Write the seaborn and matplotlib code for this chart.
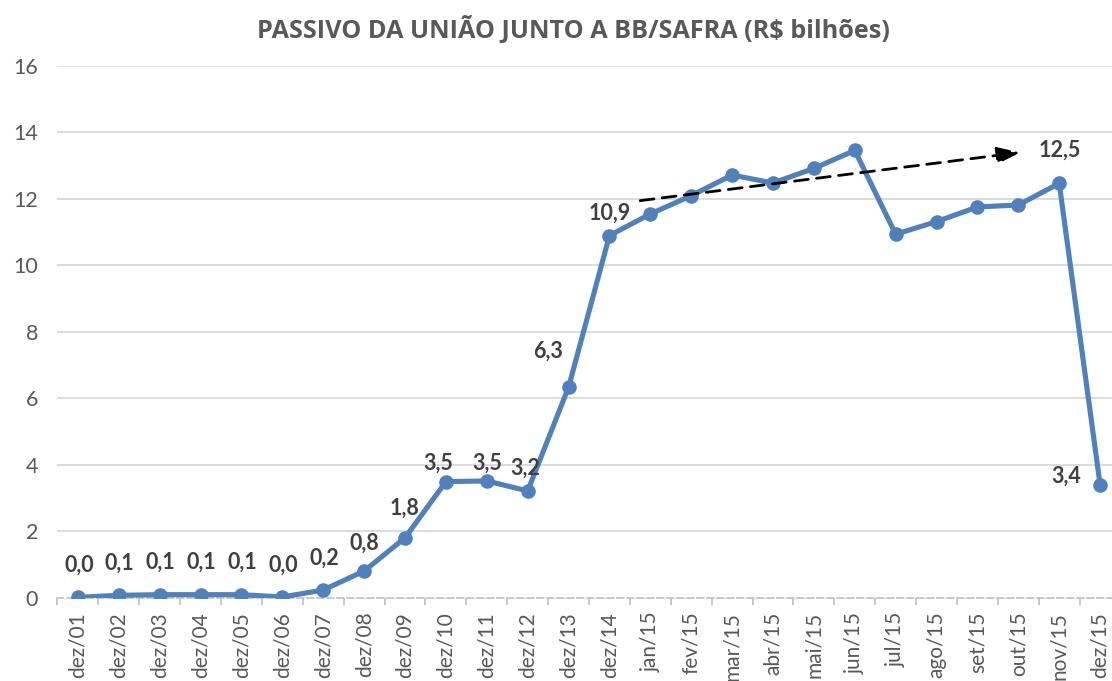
import numpy as np
import pandas as pd
import matplotlib
matplotlib.use("Agg")
import matplotlib.pyplot as plt
import seaborn as sns

# dados
meses = ['dez/01', 'dez/02', 'dez/03', 'dez/04', 'dez/05', 'dez/06', 'dez/07',
         'dez/08', 'dez/09', 'dez/10', 'dez/11', 'dez/12', 'dez/13', 'dez/14',
         'jan/15', 'fev/15', 'mar/15', 'abr/15', 'mai/15', 'jun/15', 'jul/15',
         'ago/15', 'set/15', 'out/15', 'nov/15', 'dez/15']
passivo = [0.02, 0.08, 0.1, 0.1, 0.1, 0.03, 0.24,
           0.81, 1.81, 3.5, 3.52, 3.22, 6.34, 10.9,
           11.55, 12.1, 12.72, 12.48, 12.92, 13.46, 10.94,
           11.32, 11.76, 11.82, 12.47, 3.4]
# rotulos mostrados no grafico (None = sem rotulo)
rotulos = ['0,0', '0,1', '0,1', '0,1', '0,1', '0,0', '0,2',
           '0,8', '1,8', '3,5', '3,5', '3,2', '6,3', '10,9',
           None, None, None, None, None, None, None,
           None, None, None, '12,5', '3,4']
yticks = [0, 2, 4, 6, 8, 10, 12, 14, 16]

df = pd.DataFrame({'mes': meses, 'valor': passivo})

sns.set_style("white")
plt.rcParams['font.family'] = ['Lato', 'DejaVu Sans']

azul = '#4F81BD'
cinza_txt = '#595959'

fig = plt.figure(figsize=(11.12, 6.81), dpi=100)
ax = fig.add_axes([0.0517, 0.1219, 0.956, 0.7812])

sns.lineplot(data=df, x='mes', y='valor', sort=False, ax=ax,
             color=azul, linewidth=3.7, marker='o', markersize=10.5,
             markeredgewidth=0, zorder=3)

ax.set_xlim(-0.5, len(meses) - 0.5)
ax.set_ylim(0, 16)
ax.set_yticks(yticks)
ax.set_yticklabels([str(v) for v in yticks])
ax.set_xticks(range(len(meses)))
ax.set_xticklabels(meses, rotation=90)
ax.set_xlabel('')
ax.set_ylabel('')

# grade horizontal
ax.yaxis.grid(True, color='#D9D9D9', linewidth=1.3)
ax.set_axisbelow(True)
ax.get_ygridlines()[0].set_visible(False)

for s in ['top', 'right', 'left']:
    ax.spines[s].set_visible(False)
ax.spines['bottom'].set_color('#BFBFBF')
ax.spines['bottom'].set_linewidth(1.2)
ax.spines['bottom'].set_linestyle((0, (4, 2)))

# ticks entre categorias
ax.set_xticks(np.arange(-0.5, len(meses), 1), minor=True)
ax.tick_params(axis='x', which='major', length=0, pad=10, labelsize=15, labelcolor=cinza_txt)
ax.tick_params(axis='x', which='minor', length=5, width=1.2, color='#BFBFBF', direction='out')
ax.tick_params(axis='y', length=0, pad=14, labelsize=15.5, labelcolor=cinza_txt)
ax.xaxis.set_ticks_position('bottom')

# deslocamento dos rotulos (pixels)
desloc = {7: (0, 28), 8: (0, 30), 9: (-8, 18), 10: (0, 18), 11: (-2, 23),
          12: (-21, 36), 13: (0, 22), 24: (1, 33), 25: (-34, 9)}
for i, (txt, v) in enumerate(zip(rotulos, passivo)):
    if txt is None:
        continue
    dx, dy = desloc.get(i, (1, 32))
    ax.annotate(txt, xy=(i, v), xytext=(dx, dy), textcoords='offset pixels',
                ha='center', va='center', fontsize=15.5, fontweight='bold',
                color='#404040', annotation_clip=False)

# seta tracejada de tendencia
ax.annotate('', xy=(23.05, 13.4), xytext=(13.75, 11.95),
            arrowprops=dict(arrowstyle='-|>,head_length=0.7,head_width=0.25',
                            mutation_scale=20,
                            color='black', linestyle=(0, (5, 3)), linewidth=2,
                            shrinkA=0, shrinkB=0))

fig.text(0.516, 0.956, 'PASSIVO DA UNIÃO JUNTO A BB/SAFRA (R$ bilhões)',
         ha='center', va='center', fontsize=18.2, fontweight='bold',
         color=cinza_txt, family=['Open Sans', 'DejaVu Sans'])

fig.savefig('out.png', dpi=100)
